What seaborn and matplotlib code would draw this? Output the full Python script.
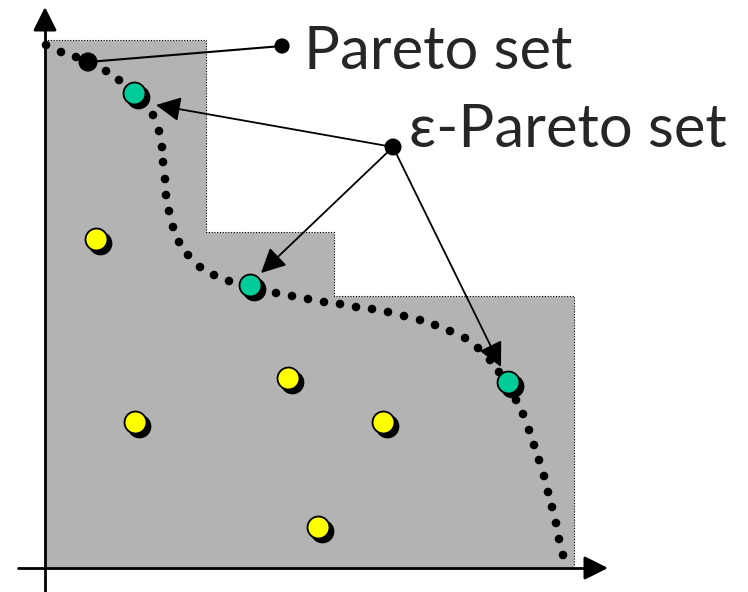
import matplotlib
matplotlib.use('Agg')
import matplotlib.pyplot as plt
import seaborn as sns
import pandas as pd

# everything is in picture units (pixels, y grows downwards)
region_x = [45, 45, 206, 206, 334, 334, 574, 574]
region_y = [568, 40, 40, 232, 232, 296, 296, 568]

# dots of the dotted front
front_x = [46, 61, 76, 106, 119, 153, 159, 162, 163, 165, 166, 169, 173, 179,
           188, 200, 214, 229, 276, 292, 308, 324, 340, 356, 372, 388, 404,
           420, 435, 450, 465, 478, 490, 499, 516, 523, 529, 534, 539, 544,
           548, 552, 556, 559, 563]
front_y = [45, 52, 57, 71, 80, 115, 131, 147, 162, 179, 195, 211, 227, 242,
           255, 267, 275, 281, 293, 296, 299, 302, 304, 307, 309, 312, 316,
           320, 325, 331, 338, 348, 360, 372, 400, 414, 430, 445, 460, 476,
           492, 507, 523, 539, 555]

pareto_x = [88]
pareto_y = [62]

eps_x = [134, 250, 508]
eps_y = [93, 285, 382]

other_x = [96, 135, 288, 383, 318]
other_y = [239, 422, 378, 422, 527]

label_pareto = 'Pareto set'
label_eps = 'ε-Pareto set'
pareto_label_dot = (282, 46)
eps_label_dot = (393, 147)
eps_arrow_tips_x = [156, 261, 501]
eps_arrow_tips_y = [105, 273, 367]

sns.set_style('white')
plt.rcParams['font.family'] = ['Lato', 'DejaVu Sans']

fig = plt.figure(figsize=(7.48, 5.92), dpi=100)
ax = fig.add_axes([0, 0, 1, 1])
ax.set_xlim(0, 748)
ax.set_ylim(592, 0)
ax.axis('off')

ax.fill(region_x, region_y, facecolor='#b3b3b3', edgecolor='black',
        linestyle=(0, (1, 1.5)), linewidth=0.8, zorder=1)

# axes with arrow heads
ax.plot([45, 45], [592, 26], color='black', lw=2, zorder=2)
ax.plot([18, 590], [568, 568], color='black', lw=2, zorder=2)
ax.annotate('', xy=(45, 7), xytext=(45, 30),
            arrowprops=dict(arrowstyle='-|>,head_length=1.0,head_width=0.5',
                            mutation_scale=14.4, color='black', lw=2,
                            shrinkA=0, shrinkB=0), zorder=2)
ax.annotate('', xy=(608, 568), xytext=(585, 568),
            arrowprops=dict(arrowstyle='-|>,head_length=1.0,head_width=0.5',
                            mutation_scale=14.4, color='black', lw=2,
                            shrinkA=0, shrinkB=0), zorder=2)

front = pd.DataFrame({'x': front_x, 'y': front_y})
sns.scatterplot(data=front, x='x', y='y', s=38, color='black',
                edgecolor='none', ax=ax, zorder=3)

# pareto set label line
ax.plot([pareto_x[0], pareto_label_dot[0]], [pareto_y[0], pareto_label_dot[1]],
        color='black', lw=1.5, zorder=4)
sns.scatterplot(x=[pareto_label_dot[0]], y=[pareto_label_dot[1]], s=120,
                color='black', edgecolor='none', ax=ax, zorder=4)
sns.scatterplot(x=pareto_x, y=pareto_y, s=190, color='black',
                edgecolor='none', ax=ax, zorder=5)

# shaded points
shadow = 4
for xs, ys, col in [(eps_x, eps_y, '#00cc99'), (other_x, other_y, '#ffff00')]:
    sns.scatterplot(x=[v + shadow for v in xs], y=[v + shadow for v in ys],
                    s=250, color='black', edgecolor='black', ax=ax, zorder=5)
    sns.scatterplot(x=xs, y=ys, s=250, color=col, edgecolor='black',
                    linewidth=1.3, ax=ax, zorder=6)

# epsilon arrows
for tx, ty in zip(eps_arrow_tips_x, eps_arrow_tips_y):
    ax.annotate('', xy=(tx, ty), xytext=eps_label_dot,
                arrowprops=dict(arrowstyle='-|>,head_length=1.0,head_width=0.5',
                                mutation_scale=15, color='black', lw=1.3,
                                shrinkA=0, shrinkB=0), zorder=7)
sns.scatterplot(x=[eps_label_dot[0]], y=[eps_label_dot[1]], s=150,
                color='black', edgecolor='none', ax=ax, zorder=7)

ax.text(304, 69, label_pareto, fontsize=43, va='baseline', ha='left')
ax.text(409, 147, label_eps, fontsize=43, va='baseline', ha='left')

fig.savefig('out.png', dpi=100)
